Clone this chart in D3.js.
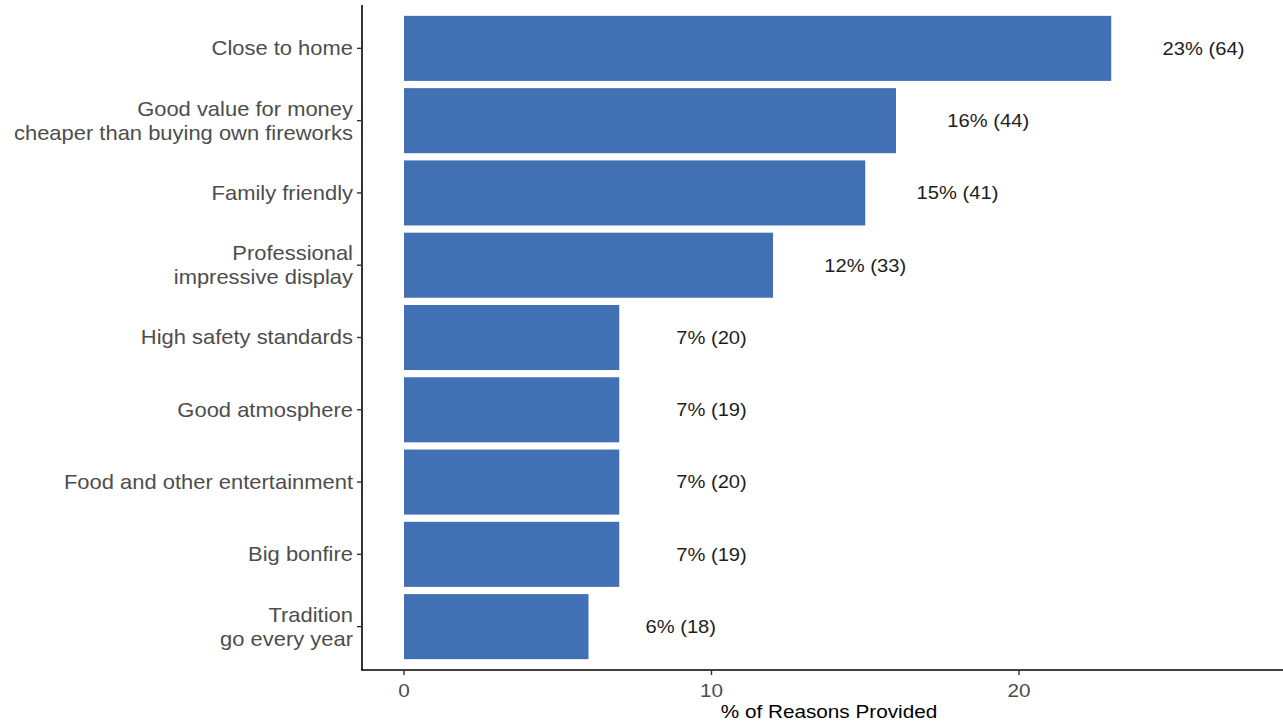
<!DOCTYPE html>
<html><head><meta charset="utf-8">
<script src="https://cdn.jsdelivr.net/npm/d3@7"></script>
<style>body{margin:0;background:#fff;}svg{display:block;}</style>
</head><body>
<svg id="chart" width="1283" height="721"></svg>
<script>
const categories = [
  "Close to home",
  "Good value for money\ncheaper than buying own fireworks",
  "Family friendly",
  "Professional\nimpressive display",
  "High safety standards",
  "Good atmosphere",
  "Food and other entertainment",
  "Big bonfire",
  "Tradition\ngo every year"
];
const percents = [23, 16, 15, 12, 7, 7, 7, 7, 6];
const counts = [64, 44, 41, 33, 20, 19, 20, 19, 18];
const xTicks = [0, 10, 20];
const xTitle = "% of Reasons Provided";

(function () {
const svg = d3.select("#chart");
const pLeft = 362, pRight = 1283, pTop = 5, pBottom = 670;
const sx = 1.12;
const x = d3.scaleLinear().domain([0, 10]).range([404, 711.5]);
const y = d3.scaleBand().domain(categories).range([pTop, pBottom]).paddingInner(0.1).paddingOuter(0.15);
const font = "Liberation Sans, Arial, sans-serif";

svg.append("g").selectAll("rect").data(categories).join("rect")
  .attr("x", x(0))
  .attr("y", d => y(d))
  .attr("width", (d, i) => x(percents[i]) - x(0))
  .attr("height", y.bandwidth())
  .attr("fill", "#4171b4");

svg.append("g").selectAll("text").data(categories).join("text")
  .attr("transform", (d, i) => `translate(${x(percents[i] + 3)},${y(d) + y.bandwidth() / 2}) scale(${sx},1)`)
  .attr("dy", "0.35em")
  .attr("text-anchor", "middle")
  .attr("font-family", font)
  .attr("font-size", 18)
  .attr("fill", "#1e1e1e")
  .text((d, i) => `${percents[i]}% (${counts[i]})`);

const yAxis = svg.append("g");
yAxis.append("line").attr("x1", pLeft).attr("x2", pLeft).attr("y1", pTop).attr("y2", pBottom + 0.5)
  .attr("stroke", "#000").attr("stroke-width", 1.6);
categories.forEach(c => {
  const cy = y(c) + y.bandwidth() / 2;
  yAxis.append("line").attr("x1", pLeft - 5).attr("x2", pLeft).attr("y1", cy).attr("y2", cy)
    .attr("stroke", "#333").attr("stroke-width", 1.4);
  const lines = c.split("\n");
  lines.forEach((ln, j) => {
    yAxis.append("text")
      .attr("transform", `translate(${pLeft - 9},${cy + (j - (lines.length - 1) / 2) * 24}) scale(${sx},1)`)
      .attr("dy", "0.35em").attr("text-anchor", "end")
      .attr("font-family", font).attr("font-size", 19.6).attr("fill", "#4d4d4d")
      .text(ln);
  });
});

const xAxis = svg.append("g");
xAxis.append("line").attr("x1", pLeft - 0.8).attr("x2", pRight).attr("y1", pBottom).attr("y2", pBottom)
  .attr("stroke", "#000").attr("stroke-width", 1.6);
xTicks.forEach(t => {
  xAxis.append("line").attr("x1", x(t)).attr("x2", x(t)).attr("y1", pBottom).attr("y2", pBottom + 5)
    .attr("stroke", "#333").attr("stroke-width", 1.4);
  xAxis.append("text")
    .attr("transform", `translate(${x(t)},${pBottom + 21}) scale(${sx},1)`)
    .attr("dy", "0.35em")
    .attr("text-anchor", "middle").attr("font-family", font).attr("font-size", 18.5)
    .attr("fill", "#4d4d4d").text(t);
});
svg.append("text")
  .attr("transform", `translate(829,712) scale(${sx},1)`)
  .attr("dy", "0.35em")
  .attr("text-anchor", "middle").attr("font-family", font).attr("font-size", 18.5)
  .attr("fill", "#000").text(xTitle);
})();
</script>
</body></html>
